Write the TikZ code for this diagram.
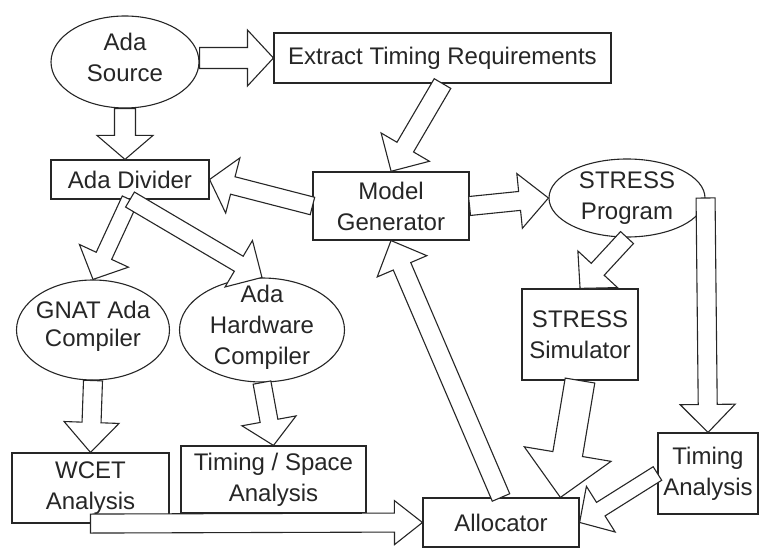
\documentclass[tikz,border=0pt]{standalone}
\usepackage{fontspec}
\setmainfont{Liberation Sans}
\usetikzlibrary{shapes.geometric,calc}
\definecolor{ink}{HTML}{262626}

% Block arrow from #1 to #2: half shaft width #3, half head width #4, head length #5
\newcommand\blockarrow[5]{%
  \draw[barrow] let \p1=#1, \p2=#2,
      \n1={atan2(\y2-\y1,\x2-\x1)}, \n2={veclen(\x2-\x1,\y2-\y1)} in
    [shift={(\p1)}, rotate=\n1]
    (0,-#3) -- (\n2-#5,-#3) -- (\n2-#5,-#4) -- (\n2,0)
    -- (\n2-#5,#4) -- (\n2-#5,#3) -- (0,#3) -- cycle;
}

\begin{document}
\begin{tikzpicture}[x=1pt,y=1pt,
  every node/.style={font=\fontsize{24}{31}\selectfont, text=ink, align=center},
  box/.style={draw=ink, line width=1.1pt, fill=white, inner sep=0pt},
  oval/.style={box, ellipse},
  barrow/.style={draw=ink, line width=1.1pt, fill=white, line join=miter}]

\useasboundingbox (0,0) rectangle (759,-548);

% processing stages
\node[oval, minimum width=148, minimum height=92] (src) at (125,-62) {};
\node (srct) at (125,-57.5) {Ada\\Source};
\node[box, minimum width=337, minimum height=50] (ext) at (442.5,-58) {Extract Timing Requirements};
\node[box, minimum width=158, minimum height=39] (div) at (130,-179.5) {Ada Divider};
\node[box, minimum width=156, minimum height=68] (gen) at (391,-206) {Model\\Generator};
\node[oval, minimum width=156, minimum height=78] (stp) at (627,-198) {};
\node (stpt) at (627,-198) {STRESS\\Program};
\node[oval, minimum width=153, minimum height=100] (gnat) at (93,-330) {};
\node[font=\fontsize{24}{28}\selectfont] (gnatt) at (93,-326.5) {GNAT Ada\\Compiler};
\node[oval, minimum width=165, minimum height=104] (hw) at (262,-330) {};
\node (hwt) at (262,-327.5) {Ada\\Hardware\\Compiler};
\node[box, minimum width=116, minimum height=91] (sim) at (580,-334.5) {STRESS\\Simulator};
\node[box, minimum width=157, minimum height=70] (wcet) at (90.5,-488) {WCET\\Analysis};
\node[box, minimum width=185, minimum height=67] (tsa) at (273.5,-479.5) {Timing / Space\\Analysis};
\node[box, minimum width=100, minimum height=81] (tan) at (708,-473.5) {Timing\\Analysis};
\node[box, minimum width=156, minimum height=49] (alloc) at (501,-522.5) {Allocator};

% data flow
\blockarrow{(src.east |- ext.west)}{(ext.west)}{10.5}{28}{26}
\blockarrow{(src.south)}{(src.south |- div.north)}{10.5}{28}{24}
\blockarrow{(ext.south)}{(gen.north)}{9.6}{28}{28}
\blockarrow{(gen.west)}{(div.east)}{9}{28.5}{24}
\blockarrow{(gen.east)}{(stp.west)}{9.5}{27.5}{29}
\blockarrow{(div.south)}{(gnat.north)}{8.5}{27}{26}
\blockarrow{(div.south)}{(hw.north)}{8.7}{27}{27}
\blockarrow{(stp.south)}{(sim.north)}{8.8}{27}{26}
\blockarrow{(stp.east)}{(tan.north)}{9.5}{27.5}{28}
\blockarrow{(gnat.south)}{(wcet.north)}{9.5}{27.5}{30}
\blockarrow{(hw.south)}{(tsa.north)}{9}{27.5}{25}
\blockarrow{(wcet.south)}{(alloc.west)}{9.5}{22}{28}
\blockarrow{(sim.south)}{($(alloc.north)!0.756!(alloc.north east)$)}{15}{44}{44}
\blockarrow{(tan.west)}{(alloc.east)}{8}{27}{25}
\blockarrow{(alloc.north)}{(gen.south)}{9.5}{27}{28}
\end{tikzpicture}
\end{document}
